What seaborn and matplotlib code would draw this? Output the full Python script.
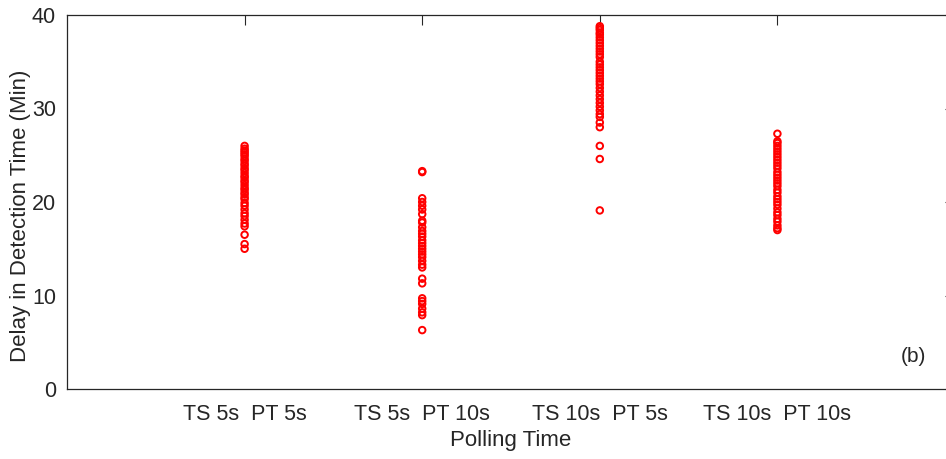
import matplotlib
matplotlib.use("Agg")
import matplotlib.pyplot as plt
import seaborn as sns
import pandas as pd

# Detection delays (minutes) for each timestamp / polling-time setting
categories = ["TS 5s  PT 5s", "TS 5s  PT 10s", "TS 10s  PT 5s", "TS 10s  PT 10s"]

ts5_pt5 = [26.0, 25.7, 25.5, 25.3, 25.1, 24.9, 24.6, 24.4, 24.1, 23.9, 23.6, 23.4,
           23.1, 22.8, 22.6, 22.3, 22.1, 21.8, 21.5, 21.3, 21.0, 20.8, 20.5, 20.3,
           19.9, 19.6, 19.2, 18.8, 18.5, 18.1, 17.7, 17.4, 16.5, 15.5, 15.0]

ts5_pt10 = [23.3, 23.2, 20.4, 20.0, 19.6, 19.2, 18.7, 18.0, 17.8, 17.3, 16.9, 16.6,
            16.3, 15.9, 15.6, 15.3, 15.0, 14.7, 14.4, 14.1, 13.7, 13.3, 13.0, 11.8,
            11.3, 9.7, 9.4, 9.1, 8.6, 8.2, 7.9, 6.3]

ts10_pt5 = [38.8, 38.6, 38.4, 38.1, 37.9, 37.6, 37.3, 37.0, 36.7, 36.4, 36.1, 35.8,
            35.5, 35.0, 34.7, 34.4, 34.1, 33.8, 33.5, 33.2, 32.9, 32.6, 32.2, 31.8,
            31.4, 31.0, 30.6, 30.2, 29.8, 29.4, 29.1, 28.5, 28.0, 26.0, 24.6, 19.1]

ts10_pt10 = [27.3, 26.5, 26.3, 26.0, 25.7, 25.4, 25.1, 24.8, 24.5, 24.2, 23.9, 23.6,
             23.2, 22.9, 22.6, 22.3, 22.0, 21.7, 21.3, 21.0, 20.6, 20.3, 20.0, 19.7,
             19.3, 18.9, 18.6, 18.2, 17.9, 17.5, 17.2, 17.0]

series = [ts5_pt5, ts5_pt10, ts10_pt5, ts10_pt10]
df = pd.DataFrame({
    "setting": [c for c, vals in zip(categories, series) for _ in vals],
    "delay": [v for vals in series for v in vals],
})

sns.set_theme(style="white")
plt.rcParams["font.family"] = ["Liberation Sans", "DejaVu Sans"]

fig = plt.figure(figsize=(9.46, 4.59), dpi=100)
ax = fig.add_axes([67 / 946, 70 / 459, 888 / 946, 374 / 459])

sns.stripplot(data=df, x="setting", y="delay", order=categories, jitter=False,
              color="red", size=4.7, linewidth=1.4, ax=ax)
for coll in ax.collections:
    coll.set_facecolor("none")
    coll.set_edgecolor("#ff0000")

ax.set_xlim(-1, 4)
ax.set_ylim(0, 40)
ax.set_yticks([0, 10, 20, 30, 40])

text_color = "#262626"
ax.set_xlabel("Polling Time", fontsize=16, color=text_color)
ax.set_ylabel("Delay in Detection Time (Min)", fontsize=16, color=text_color)
ax.xaxis.set_label_coords(0.5, -0.11)
ax.yaxis.set_label_coords(-0.041, 0.463)
ax.tick_params(axis="both", which="both", direction="in", length=7, width=0.8,
               colors=text_color, labelsize=15.5, top=True, right=True)
ax.tick_params(axis="x", pad=11)
ax.tick_params(axis="y", pad=8)
for spine in ax.spines.values():
    spine.set_color(text_color)
    spine.set_linewidth(0.9)

ax.text(0.953, 0.086, "(b)", transform=ax.transAxes, fontsize=15,
        color=text_color, ha="center", va="center")

fig.savefig("out.png", dpi=100)
